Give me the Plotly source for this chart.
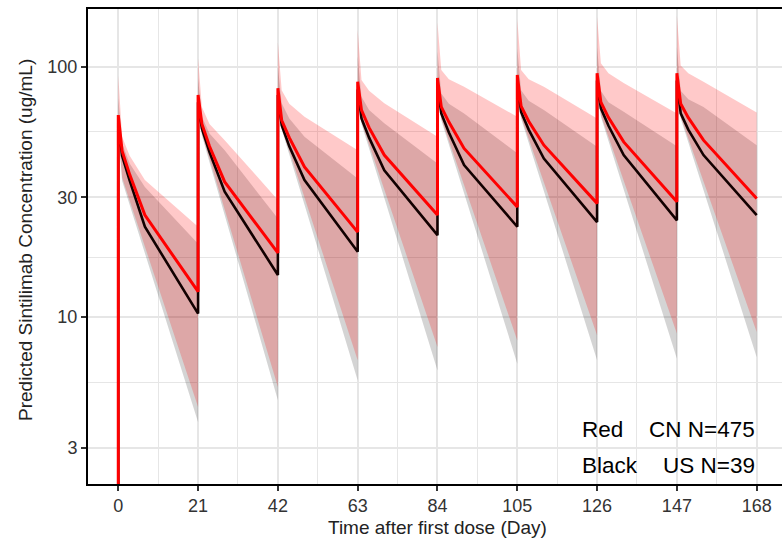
import math
import plotly.graph_objects as go

# Dosing schedule (every 3 weeks) and sampling offsets within each cycle (days)
dose_days = [0, 21, 42, 63, 84, 105, 126, 147]
offsets = [0, 1, 3, 7, 21]
pre_dose = 0.01  # concentration before the first infusion

# Median predicted concentrations (ug/mL), one row per cycle at each offset
cn_median = [
    [64, 46, 37, 25.5, 12.6],
    [77, 59, 48, 34.6, 18.0],
    [82, 61, 52, 39.7, 21.8],
    [87, 67, 57, 44.3, 25.5],
    [90, 69, 60, 47.1, 27.5],
    [92.5, 69.5, 60.5, 48.5, 28.4],
    [94, 72, 62.5, 50.0, 28.8],
    [94, 71, 62.5, 50.8, 29.7],
]
us_median = [
    [60, 44, 35, 22.9, 10.3],
    [72, 56.6, 45.5, 31.6, 14.7],
    [77, 58.3, 48, 35.2, 18.2],
    [81, 62, 52, 38.5, 21.2],
    [84, 65, 54.5, 40.4, 22.9],
    [86, 65.9, 56, 42.9, 23.9],
    [88, 68.1, 58, 44.3, 24.3],
    [88, 65, 56, 44.3, 25.5],
]

# Prediction-interval bounds
cn_upper = [
    [92, 52.4, 44, 35.2, 22.9],
    [108, 69, 59, 50.8, 29.3],
    [125, 80.5, 71, 63, 46.3],
    [140, 88.3, 80, 71.3, 52.4],
    [150, 96.8, 89, 83, 63],
    [155, 96.8, 89, 83, 62],
    [158, 103, 94, 86, 65],
    [160, 101, 94, 87, 65.6],
]
cn_lower = [
    [55, 36, 29.1, 19.1, 4.36],
    [66, 54, 42.8, 26.8, 5.24],
    [72, 57, 46.0, 30.0, 6.7],
    [76, 60, 48.8, 32.2, 7.57],
    [79, 62, 50.5, 33.6, 8.05],
    [81, 63, 51.5, 34.4, 8.44],
    [82, 64, 52.3, 35.0, 8.57],
    [82, 63, 51.6, 34.7, 8.7],
]
us_upper = [
    [75, 49.3, 41, 33, 19.6],
    [90, 63, 54, 46.3, 24.7],
    [100, 71.3, 62, 52.4, 35.7],
    [110, 75.7, 67, 59.3, 41],
    [115, 78, 71, 65, 45],
    [118, 80.5, 73, 67, 47.8],
    [120, 80, 72, 66, 48],
    [120, 80, 74, 69, 48.5],
]
us_lower = [
    [55, 35, 28.0, 17.9, 3.79],
    [66, 53, 41.5, 25.5, 4.64],
    [72, 56, 44.5, 28.0, 5.57],
    [76, 59, 47.0, 29.9, 6.1],
    [79, 61, 48.8, 31.2, 6.5],
    [81, 62, 49.6, 31.8, 6.7],
    [82, 63, 50.4, 32.3, 6.8],
    [82, 62, 49.8, 32.1, 6.9],
]

y_breaks = [3, 10, 30, 100]
x_breaks = list(range(0, 169, 21))


def profile(rows, start=None):
    xs, ys = [], []
    if start is not None:
        xs.append(dose_days[0])
        ys.append(start)
    for t, row in zip(dose_days, rows):
        for off, v in zip(offsets, row):
            xs.append(t + off)
            ys.append(v)
    return xs, ys


FONT = "Liberation Sans, Arial, sans-serif"
fig = go.Figure()


def ribbon(lower, upper, color):
    xl, yl = profile(lower)
    xu, yu = profile(upper)
    fig.add_trace(go.Scatter(x=xl, y=yl, mode="lines", line=dict(width=0),
                             hoverinfo="skip", showlegend=False))
    fig.add_trace(go.Scatter(x=xu, y=yu, mode="lines", line=dict(width=0),
                             fill="tonexty", fillcolor=color,
                             hoverinfo="skip", showlegend=False))


ribbon(us_lower, us_upper, "rgba(0,0,0,0.17)")
ribbon(cn_lower, cn_upper, "rgba(255,0,0,0.21)")

xb, yb = profile(us_median, start=pre_dose)
fig.add_trace(go.Scatter(x=xb, y=yb, mode="lines",
                         line=dict(color="#120000", width=2.6),
                         hoverinfo="skip", showlegend=False))
xr, yr = profile(cn_median, start=pre_dose)
fig.add_trace(go.Scatter(x=xr, y=yr, mode="lines",
                         line=dict(color="#FF0000", width=3),
                         hoverinfo="skip", showlegend=False))

# plot-area geometry in pixels
W, H = 782, 540
L, R, T, B = 88, 0, 9, 56
pw, ph = W - L - R, H - T - B


def px(x):
    return (x - L) / pw


def py(y):
    return (H - B - y) / ph


grid = "#E6E6E6"
fig.update_layout(
    width=W, height=H,
    margin=dict(l=L, r=R, t=T, b=B, pad=0),
    paper_bgcolor="white", plot_bgcolor="white",
    font=dict(family=FONT, color="#333333"),
    xaxis=dict(
        range=[-7.97, 174.66],
        tickmode="array", tickvals=x_breaks, ticktext=[str(v) for v in x_breaks],
        ticks="outside", ticklen=5, tickwidth=1.5, tickcolor="#333333",
        tickfont=dict(size=18, color="#333333", family=FONT),
        ticklabelstandoff=-1,
        showgrid=True, gridcolor=grid, gridwidth=1.6,
        minor=dict(tickmode="linear", tick0=10.5, dtick=21,
                   showgrid=True, gridcolor=grid, gridwidth=1.3),
        showline=True, linecolor="black", linewidth=2, mirror=True,
        zeroline=False,
    ),
    yaxis=dict(
        type="log",
        range=[0.332, 2.23],
        tickmode="array", tickvals=y_breaks, ticktext=[str(v) for v in y_breaks],
        ticks="outside", ticklen=5, tickwidth=1.5, tickcolor="#333333",
        tickfont=dict(size=18, color="#333333", family=FONT),
        showgrid=True, gridcolor=grid, gridwidth=1.6,
        minor=dict(tickmode="array",
                   tickvals=[math.sqrt(a * b) for a, b in zip(y_breaks[:-1], y_breaks[1:])],
                   showgrid=True, gridcolor=grid, gridwidth=1.3),
        showline=True, linecolor="black", linewidth=2, mirror=False,
        zeroline=False,
    ),
)

ann = [
    dict(text="Time after first dose (Day)", x=px(437), y=py(527),
         xanchor="center", yanchor="middle", font=dict(size=19, color="#222222")),
    dict(text="Predicted Sintilimab Concentration (ug/mL)", x=px(25), y=py(240),
         textangle=-90, xanchor="center", yanchor="middle",
         font=dict(size=19, color="#222222")),
    dict(text="Red", x=px(580), y=py(429), xanchor="left", yanchor="middle",
         font=dict(size=22.5, color="black")),
    dict(text="CN N=475", x=px(757), y=py(429), xanchor="right", yanchor="middle",
         font=dict(size=22.5, color="black")),
    dict(text="Black", x=px(580), y=py(465), xanchor="left", yanchor="middle",
         font=dict(size=22.5, color="black")),
    dict(text="US N=39", x=px(757), y=py(465), xanchor="right", yanchor="middle",
         font=dict(size=22.5, color="black")),
]
for a in ann:
    a.update(xref="paper", yref="paper", showarrow=False)
    a["font"]["family"] = FONT
fig.update_layout(annotations=ann)

fig.write_html("out.html")
